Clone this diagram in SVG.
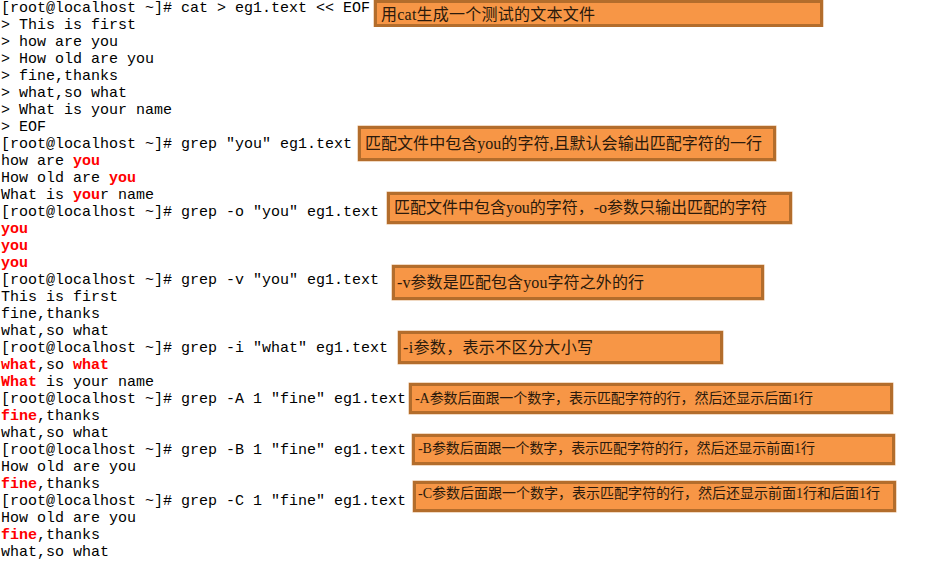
<svg xmlns="http://www.w3.org/2000/svg" width="951" height="564" viewBox="0 0 951 564">
<style>
.t{font-family:"Liberation Mono","DejaVu Sans Mono",monospace;font-size:15px;fill:#000;}
.r{fill:#ff0000;font-weight:bold;}
.box{fill:#f79646;stroke:#b36d2c;stroke-width:3;}
.edge{fill:none;stroke:#e3b486;stroke-width:1;}
.n{font-family:"Liberation Serif","Noto Sans CJK SC",serif;font-size:16px;fill:#2b1a0c;}
.s{font-size:14px;}
</style>
<rect width="951" height="564" fill="#ffffff"/>
<g id="terminal">
<text class="t" x="1" y="12">[root@localhost ~]# cat &gt; eg1.text &lt;&lt; EOF</text>
<text class="t" x="1" y="29">&gt; This is first</text>
<text class="t" x="1" y="46">&gt; how are you</text>
<text class="t" x="1" y="63">&gt; How old are you</text>
<text class="t" x="1" y="80">&gt; fine,thanks</text>
<text class="t" x="1" y="97">&gt; what,so what</text>
<text class="t" x="1" y="114">&gt; What is your name</text>
<text class="t" x="1" y="131">&gt; EOF</text>
<text class="t" x="1" y="148">[root@localhost ~]# grep "you" eg1.text</text>
<text class="t" x="1" y="165">how are <tspan class="r">you</tspan></text>
<text class="t" x="1" y="182">How old are <tspan class="r">you</tspan></text>
<text class="t" x="1" y="199">What is <tspan class="r">you</tspan>r name</text>
<text class="t" x="1" y="216">[root@localhost ~]# grep -o "you" eg1.text</text>
<text class="t r" x="1" y="233">you</text>
<text class="t r" x="1" y="250">you</text>
<text class="t r" x="1" y="267">you</text>
<text class="t" x="1" y="284">[root@localhost ~]# grep -v "you" eg1.text</text>
<text class="t" x="1" y="301">This is first</text>
<text class="t" x="1" y="318">fine,thanks</text>
<text class="t" x="1" y="335">what,so what</text>
<text class="t" x="1" y="352">[root@localhost ~]# grep -i "what" eg1.text</text>
<text class="t" x="1" y="369"><tspan class="r">what</tspan>,so <tspan class="r">what</tspan></text>
<text class="t" x="1" y="386"><tspan class="r">What</tspan> is your name</text>
<text class="t" x="1" y="403">[root@localhost ~]# grep -A 1 "fine" eg1.text</text>
<text class="t" x="1" y="420"><tspan class="r">fine</tspan>,thanks</text>
<text class="t" x="1" y="437">what,so what</text>
<text class="t" x="1" y="454">[root@localhost ~]# grep -B 1 "fine" eg1.text</text>
<text class="t" x="1" y="471">How old are you</text>
<text class="t" x="1" y="488"><tspan class="r">fine</tspan>,thanks</text>
<text class="t" x="1" y="505">[root@localhost ~]# grep -C 1 "fine" eg1.text</text>
<text class="t" x="1" y="522">How old are you</text>
<text class="t" x="1" y="539"><tspan class="r">fine</tspan>,thanks</text>
<text class="t" x="1" y="556">what,so what</text>
</g>
<g id="note-cat">
<rect class="edge" x="374" y="-0.5" width="449" height="27"/>
<rect class="box" x="375.5" y="1.5" width="446" height="24"/>
<text class="n" x="381" y="20" textLength="214" lengthAdjust="spacing">用cat生成一个测试的文本文件</text>
</g>
<g id="note-grep">
<rect class="edge" x="358" y="126" width="418" height="35"/>
<rect class="box" x="359.5" y="127.5" width="415" height="32"/>
<text class="n" x="365" y="148.5" textLength="397" lengthAdjust="spacing">匹配文件中包含you的字符,且默认会输出匹配字符的一行</text>
</g>
<g id="note-o">
<rect class="edge" x="387" y="192" width="405" height="32"/>
<rect class="box" x="388.5" y="193.5" width="402" height="29"/>
<text class="n" x="394" y="212.5" textLength="373" lengthAdjust="spacing">匹配文件中包含you的字符，-o参数只输出匹配的字符</text>
</g>
<g id="note-v">
<rect class="edge" x="392" y="265" width="372" height="35"/>
<rect class="box" x="393.5" y="266.5" width="369" height="32"/>
<text class="n" x="397" y="288" textLength="247" lengthAdjust="spacing">-v参数是匹配包含you字符之外的行</text>
</g>
<g id="note-i">
<rect class="edge" x="398" y="331" width="325" height="33"/>
<rect class="box" x="399.5" y="332.5" width="322" height="30"/>
<text class="n" x="403" y="353" textLength="190" lengthAdjust="spacing">-i参数，表示不区分大小写</text>
</g>
<g id="note-A">
<rect class="edge" x="409" y="383" width="484" height="31"/>
<rect class="box" x="410.5" y="384.5" width="481" height="28"/>
<text class="n s" x="415" y="403" textLength="398" lengthAdjust="spacing">-A参数后面跟一个数字，表示匹配字符的行，然后还显示后面1行</text>
</g>
<g id="note-B">
<rect class="edge" x="412" y="434" width="483" height="31"/>
<rect class="box" x="413.5" y="435.5" width="480" height="28"/>
<text class="n s" x="418" y="453" textLength="397" lengthAdjust="spacing">-B参数后面跟一个数字，表示匹配字符的行，然后还显示前面1行</text>
</g>
<g id="note-C">
<rect class="edge" x="413" y="481" width="483" height="31"/>
<rect class="box" x="414.5" y="482.5" width="480" height="28"/>
<text class="n s" x="418" y="498" textLength="462" lengthAdjust="spacing">-C参数后面跟一个数字，表示匹配字符的行，然后还显示前面1行和后面1行</text>
</g>
<g id="connectors"/>
</svg>
